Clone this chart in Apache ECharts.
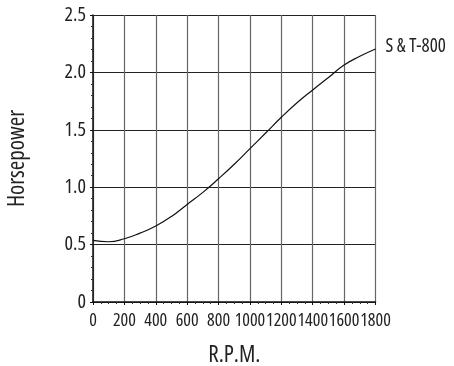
<!DOCTYPE html>
<html>
<head>
<meta charset="utf-8">
<script src="https://cdn.jsdelivr.net/npm/echarts@6/dist/echarts.min.js"></script>
<style>
html,body{margin:0;padding:0;background:#fff;}
#chart{width:454px;height:366px;}
</style>
</head>
<body>
<div id="chart"></div>
<script>
const rpm = [0,100,200,300,400,500,600,700,800,900,1000,1100,1200,1300,1400,1500,1600,1700,1800];
const horsepower = [0.537,0.525,0.551,0.600,0.662,0.745,0.850,0.955,1.074,1.200,1.336,1.472,1.609,1.735,1.847,1.955,2.064,2.140,2.204];
const seriesName = 'S & T-800';
const xTicks = [0,200,400,600,800,1000,1200,1400,1600,1800];
const yTicks = [0,0.5,1.0,1.5,2.0,2.5];

const FONT = '"Open Sans","Liberation Sans",sans-serif';
const FW = 'normal condensed';
const chart = echarts.init(document.getElementById('chart'), null, {renderer:'canvas'});
chart.setOption({
  animation:false,
  backgroundColor:'#fff',
  grid:{left:93,top:15,right:78.5,bottom:64,containLabel:false,outerBoundsMode:'none'},
  xAxis:{
    type:'value',min:0,max:1800,interval:200,
    name:'R.P.M.',nameLocation:'middle',nameGap:42,
    nameTextStyle:{fontFamily:FONT,fontWeight:FW,fontSize:23,color:'#222'},
    axisLine:{show:true,lineStyle:{color:'#111',width:1.5}},
    axisTick:{show:true,length:3,lineStyle:{color:'#111'}},
    minorTick:{show:true,splitNumber:4,length:2,lineStyle:{color:'#333'}},
    axisLabel:{fontFamily:FONT,fontWeight:FW,fontSize:18,color:'#222',margin:10,
      hideOverlap:false,showMinLabel:true,showMaxLabel:true,
      formatter:v=>xTicks.includes(v)?String(v):''},
    splitLine:{show:true,lineStyle:{color:'#666',width:1.2}}
  },
  yAxis:{
    type:'value',min:0,max:2.5,interval:0.5,
    name:'Horsepower',nameLocation:'middle',nameGap:64,nameRotate:90,
    nameTextStyle:{fontFamily:FONT,fontWeight:FW,fontSize:23,color:'#222'},
    axisLine:{show:true,lineStyle:{color:'#111',width:1.5}},
    axisTick:{show:true,length:3,lineStyle:{color:'#111'}},
    minorTick:{show:true,splitNumber:5,length:2,lineStyle:{color:'#333'}},
    axisLabel:{fontFamily:FONT,fontWeight:FW,fontSize:20,color:'#222',margin:7,
      hideOverlap:false,showMinLabel:true,showMaxLabel:true,
      formatter:v=>{const t=yTicks.find(y=>Math.abs(y-v)<1e-9);return t===undefined?'':(t===0?'0':t.toFixed(1));}},
    splitLine:{show:true,lineStyle:{color:'#222',width:1.2}}
  },
  series:[{
    name:seriesName,type:'line',smooth:true,showSymbol:false,
    data:rpm.map((x,i)=>[x,horsepower[i]]),
    lineStyle:{color:'#111',width:1.2},
    endLabel:{show:true,formatter:seriesName,distance:10,
      fontFamily:FONT,fontWeight:FW,fontSize:19,color:'#222',offset:[0,-2]}
  }]
});
</script>
</body>
</html>
